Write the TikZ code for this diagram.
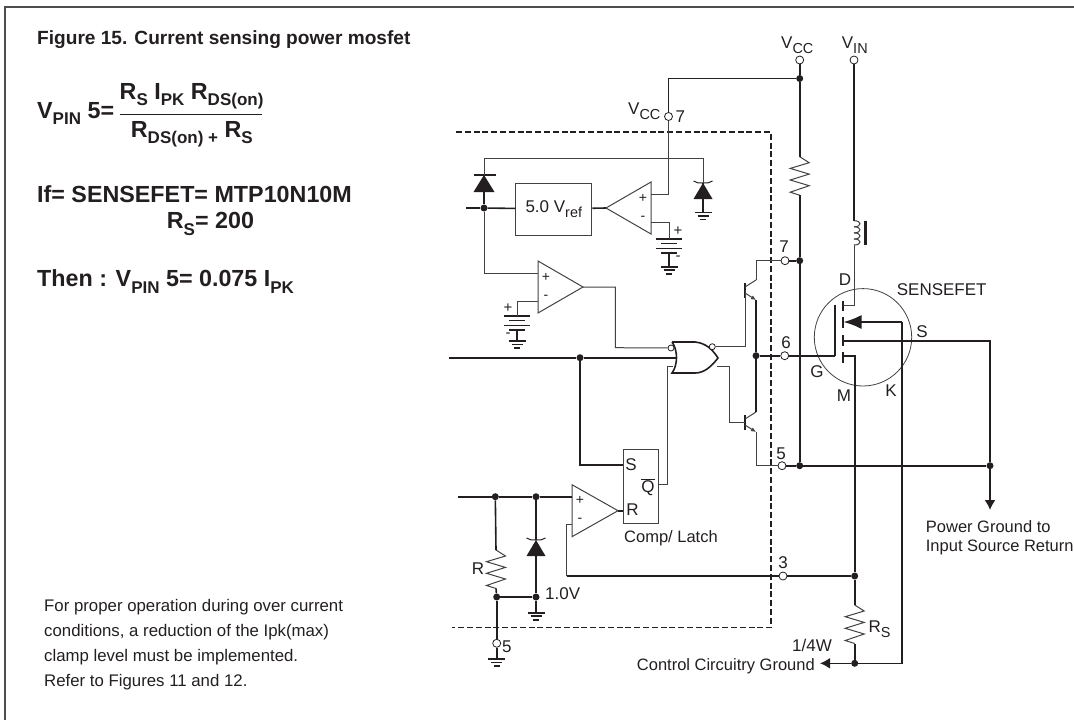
\documentclass[tikz,border=0pt]{standalone}
\usepackage{fontspec}
\setmainfont{Liberation Sans}
\usetikzlibrary{arrows.meta}
\definecolor{ink}{RGB}{35,31,32}
\newcommand{\lowtxt}[1]{\raisebox{-.3em}{\scalebox{.85}{#1}}}
\newcommand{\lowbold}[1]{\raisebox{-.28em}{\scalebox{.73}{#1}}}
\tikzset{
    wire/.style={draw=ink, line width=1.6pt},
    thinwire/.style={draw=ink!85, line width=1pt},
    pinpt/.style={circle, draw=ink, fill=white, line width=0.8pt, inner sep=0pt, minimum size=8pt},
    dotpt/.style={circle, fill=ink, inner sep=0pt, minimum size=7pt},
    lbl/.style={inner sep=0pt, text=ink, font=\fontsize{17}{20}\selectfont},
    note/.style={inner sep=0pt, anchor=base west, text=ink, font=\fontsize{16.8}{20}\selectfont},
    formula/.style={inner sep=0pt, anchor=base west, text=ink, font=\bfseries\fontsize{23.3}{26}\selectfont},
    bigtip/.style={-{Latex[length=10pt,width=11pt]}}
}
\begin{document}
\begin{tikzpicture}[x=1pt,y=-1pt]
    \useasboundingbox (0,0) rectangle (1074,720);
    \draw[draw=ink!80, line width=1.3pt] (5,720) -- (5,7) -- (1074,7);

    % texts on the left
    \node[formula, font=\bfseries\fontsize{19.1}{22}\selectfont] (title) at (37,44.5) {Figure 15. Current sensing power mosfet};
    \node[formula] (vpin) at (37,118) {V\lowbold{PIN} 5=};
    \node[formula] (fnum) at (119.5,99) {R\lowbold{S} I\lowbold{PK} R\lowbold{DS(on)}};
    \node[formula] (fden) at (130.7,137.3) {R\lowbold{DS(on) +} R\lowbold{S}};
    \coordinate (fleft) at (119.5,114.3);
    \coordinate (fright) at (262,114.3);
    \draw[draw=ink, line width=1.3pt] (fleft) -- (fright);
    \node[formula] (iftxt) at (37,202.7) {If= SENSEFET= MTP10N10M};
    \node[formula] (rstxt) at (166.7,228.7) {R\lowbold{S}= 200};
    \node[formula] (thentxt) at (37,286.7) {Then : V\lowbold{PIN} 5= 0.075 I\lowbold{PK}};
    \node[note] (note1) at (44,611) {For proper operation during over current};
    \node[note] (note2) at (44,636.5) {conditions, a reduction of the Ipk(max)};
    \node[note] (note3) at (44,661.5) {clamp level must be implemented.};
    \node[note] (note4) at (44,686) {Refer to Figures 11 and 12.};

    % dashed outline
    \coordinate (boxa) at (456,132);
    \coordinate (boxb) at (771,132);
    \coordinate (boxc) at (771,627.7);
    \coordinate (boxd) at (452,627.7);
    \draw[draw=ink, line width=1.3pt, dash pattern=on 6pt off 2.8pt] (boxa) -- (boxb) -- (boxc) -- (boxd);

    \foreach \name/\x/\y in {pvcc/799.7/60, pvin/854/60, pvc/668.5/116.5, pseven/785/260.7, psix/784.7/355.7, pfive/782/465.7, pthree/783/576, pgnd/496.7/643.3}
        \node[pinpt] (\name) at (\x,\y) {};
    \foreach \name/\x/\y in {jvcc/799.7/78.5, jref/484/208, jseven/799.7/260.7, jbase/756/355.7, jfive/799.7/465.7, jsrc/990/465.7, jin/580/357.7, jcmpa/495.3/496.7, jcmpb/536/496.7, jlow/496.7/597, jzen/536/597, jthree/854.7/576, jctl/854.7/663.3}
        \node[dotpt] (\name) at (\x,\y) {};

    % op amps
    \foreach \name/\bx/\by/\dx/\sx in {refamp/651/208/-45/-8, erramp/538/287/45/8, cmpamp/572/510.7/46/8} {
        \coordinate (\name-tip) at (\bx+\dx,\by);
        \coordinate (\name-plus) at (\bx,\by-14);
        \coordinate (\name-minus) at (\bx,\by+14);
        \draw[thinwire] (\bx,\by-26) -- (\bx+\dx,\by) -- (\bx,\by+26) -- cycle;
        \node[lbl, font=\fontsize{14}{14}\selectfont] (\name-p) at (\bx+\sx,\by-10) {+};
        \node[lbl, font=\fontsize{14}{14}\selectfont] (\name-m) at (\bx+\sx,\by+10) {-};
    }

    % grounds
    \foreach \name/\x/\y in {gzen/703/212.3, gbatr/669/266.7, gbatl/517/341, gzenl/536/612.7, gpin/496.7/659} {
        \coordinate (\name) at (\x,\y);
        \draw[wire] (\x-8.5,\y) -- (\x+8.5,\y);
        \draw[wire] (\x-5.5,\y+3.5) -- (\x+5.5,\y+3.5);
        \draw[wire] (\x-3,\y+7) -- (\x+3,\y+7);
    }

    % batteries
    \foreach \name/\x/\y/\sx in {batr/669/239/9, batl/517/316/-9} {
        \coordinate (\name-top) at (\x,\y);
        \coordinate (\name-bot) at (\x,\y+13.7);
        \draw[wire] (\x-13,\y) -- (\x+13,\y);
        \draw[wire] (\x-8,\y+4.5) -- (\x+8,\y+4.5);
        \draw[wire] (\x-13,\y+9.5) -- (\x+13,\y+9.5);
        \draw[wire] (\x-8,\y+13.7) -- (\x+8,\y+13.7);
        \node[lbl, font=\fontsize{15}{15}\selectfont] (\name-p) at (\x+\sx,\y-7.5) {+};
        \node[lbl, font=\fontsize{15}{15}\selectfont] (\name-m) at (\x+\sx,\y+19) {-};
    }

    % zeners and the diode
    \foreach \name/\x/\y in {zenr/703/183, zenl/536/540} {
        \coordinate (\name) at (\x,\y);
        \fill[ink] (\x,\y) -- (\x+9.5,\y+16) -- (\x-9.5,\y+16) -- cycle;
        \draw[wire, line width=1pt] (\x-9.5,\y-2) .. controls (\x-7,\y) and (\x-4,\y) .. (\x,\y) .. controls (\x+4,\y) and (\x+7,\y) .. (\x+9.5,\y-2);
    }
    \coordinate (diode) at (484,175);
    \fill[ink] (484,175) -- (494.5,192) -- (473.5,192) -- cycle;
    \draw[wire] (473.5,175) -- (495.5,175);

    % resistors
    \foreach \name/\x/\y in {rvcc/799.7/156.7, rsense/854.7/605, rlim/496/550} {
        \coordinate (\name-top) at (\x,\y);
        \coordinate (\name-bot) at (\x,\y+38.5);
        \draw[thinwire] (\x,\y) -- (\x+9.5,\y+6) -- (\x-9.5,\y+11.7) -- (\x+9.5,\y+17.4) -- (\x-9.5,\y+23.3) -- (\x+9.5,\y+29) -- (\x-9.5,\y+35.5) -- (\x,\y+38.5);
    }

    % boxes
    \node[lbl, draw=ink!85, line width=1pt, minimum width=76pt, minimum height=52pt] (vref) at (553.8,209) {5.0 V\lowtxt{ref}};
    \node[draw=ink!85, line width=1pt, inner sep=0pt, minimum width=35.4pt, minimum height=74pt] (latch) at (641,486.3) {};
    \node[lbl] (latchs) at (631,465) {S};
    \node[lbl] (latchq) at (648,487) {$\overline{\mbox{Q}}$};
    \node[lbl] (latchr) at (632.5,510) {R};
    \node[lbl, anchor=west, font=\fontsize{16.5}{20}\selectfont] (latchtxt) at (624,538) {Comp/ Latch};
    \coordinate (qout) at (658.7,484);

    % gate
    \coordinate (gback) at (677,357.7);
    \coordinate (gq) at (672.5,366);
    \coordinate (gout) at (717,366.5);
    \draw[wire] (672,342) -- (695,342) .. controls (706,343) and (713,350) .. (718,358) .. controls (711,367) and (704,373) .. (695,373) -- (672,373) .. controls (678,365) and (678,350) .. (672,342);
    \node[pinpt, minimum size=6pt] (ginv) at (671,348) {};
    \node[pinpt, minimum size=6pt] (goutinv) at (712.3,346.7) {};

    % transistors
    \foreach \name/\y in {qup/290, qlow/422} {
        \coordinate (\name-base) at (745,\y);
        \coordinate (\name-col) at (756,\y-10);
        \coordinate (\name-emi) at (756,\y+10);
        \draw[wire] (745,\y-7.5) -- (745,\y+7.5);
        \draw[thinwire] (745,\y-3) -- (756,\y-10);
        \draw[thinwire, -{Latex[length=5pt,width=4.5pt]}] (745,\y+3) -- (756,\y+10);
    }

    % mosfet
    \node[circle, draw=ink!85, line width=0.8pt, inner sep=0pt, minimum size=97.4pt] (mos) at (863,337.3) {};
    \foreach \y in {300.7,317,335,352}
        \draw[wire] (843,\y) -- (843,\y+10.7);
    \coordinate (mdrain) at (843,305);
    \coordinate (msense) at (843.5,322);
    \coordinate (msource) at (843,340.7);
    \coordinate (mmirror) at (843,355.7);
    \coordinate (mgatet) at (835,305);
    \coordinate (mgateb) at (835,355.7);
    \coordinate (coiltop) at (854,220.7);
    \coordinate (coilbot) at (854,245);
    \coordinate (mcorner) at (854,305);
    \coordinate (skeep) at (902,322);
    \coordinate (sfoot) at (902,663.3);
    \foreach \ya/\yb in {220.7/226.8,226.8/232.9,232.9/239,239/245}
        \draw[thinwire] (854,\ya) .. controls (862,\ya) and (862,\yb) .. (854,\yb);
    \draw[draw=ink, line width=3pt] (865,220.7) -- (865,245);

    % wires
    \draw[wire] (pvcc) -- (jvcc);
    \draw[wire] (jvcc) -- (rvcc-top);
    \draw[wire] (rvcc-bot) -- (jseven);
    \draw[wire] (jseven) -- (jfive);
    \draw[wire] (jvcc) -| (pvc);
    \draw[thinwire] (pvc) |- (refamp-plus);
    \draw[thinwire] (jref) -- ++(0,-50) -| (zenr);
    \draw[wire] (zenr) -- (gzen);
    \draw[wire] (jref) -- (diode);
    \draw[wire] (jref) -- ++(-18,0) coordinate (refin);
    \draw[wire] (jref) -- (vref);
    \draw[wire] (vref) -- (refamp-tip);
    \draw[thinwire] (refamp-minus) -| (batr-top);
    \draw[wire] (batr-bot) -- (gbatr);
    \draw[thinwire] (jref) |- (erramp-plus);
    \draw[thinwire] (erramp-minus) -| (batl-top);
    \draw[wire] (batl-bot) -- (gbatl);
    \draw[thinwire] (erramp-tip) -| (615.3,347.7) -- (ginv);
    \draw[wire] (449,357.7) -- (jin);
    \draw[wire] (jin) -- (gback);
    \draw[wire] (jin) |- (latch.west |- latchs);
    \draw[thinwire] (qout) -| (667.3,366) -- (gq);
    \draw[thinwire] (goutinv) -| (qup-base);
    \draw[thinwire] (gout) -| (729.3,422) -- (qlow-base);
    \draw[thinwire] (qup-col) |- (pseven);
    \draw[wire] (pseven) -- (jseven);
    \draw[wire] (qup-emi) -- (jbase);
    \draw[wire] (jbase) -- (qlow-col);
    \draw[wire] (jbase) -- (psix);
    \draw[wire] (psix) -- (mgateb);
    \draw[wire] (mgateb) -- (mgatet);
    \draw[thinwire] (qlow-emi) |- (pfive);
    \draw[wire] (pfive) -- (jfive);
    \draw[wire] (jfive) -- (jsrc);
    \draw[wire, bigtip] (jsrc) -- (990,510);
    \draw[wire] (msource) -| (jsrc);
    \draw[wire] (pvin) -- (coiltop);
    \draw[thinwire] (coilbot) -- (mcorner) -- (mdrain);
    \draw[wire, -{Latex[length=18pt,width=14pt]}] (skeep) -- (msense);
    \draw[wire] (skeep) -- (sfoot) -- (jctl);
    \draw[wire] (mmirror) -| (jthree);
    \draw[wire] (jthree) -- (rsense-top);
    \draw[wire] (rsense-bot) -- (jctl);
    \draw[wire, bigtip] (jctl) -- (820,663.3);
    \draw[wire] (jthree) -- (pthree);
    \draw[wire] (pthree) -- (566.7,576);
    \draw[thinwire] (566.7,576) |- (cmpamp-minus);
    \draw[wire] (458,496.7) -- (jcmpa);
    \draw[wire] (jcmpa) -- (jcmpb);
    \draw[wire] (jcmpb) -- (cmpamp-plus);
    \draw[wire] (cmpamp-tip) -- (latch.west |- cmpamp-tip);
    \draw[wire] (jcmpa) -- (rlim-top);
    \draw[wire] (rlim-bot) -- (jlow);
    \draw[wire] (jlow) -- (pgnd);
    \draw[wire] (pgnd) -- (gpin);
    \draw[wire] (jlow) -- (jzen);
    \draw[wire] (jcmpb) -- (zenl);
    \draw[wire] (jzen) -- (gzenl);
    \draw[wire] (jzen) -- (536,556);

    % labels
    \node[lbl, anchor=base west] (lvcc) at (781,48) {V\lowtxt{CC}};
    \node[lbl, anchor=base west] (lvin) at (841.7,48) {V\lowtxt{IN}};
    \node[lbl, anchor=base west] (lvccb) at (628,114) {V\lowtxt{CC}};
    \node[lbl, anchor=west] (lseven) at (675.5,117) {7};
    \node[lbl] (nseven) at (784,247) {7};
    \node[lbl] (nsix) at (786,343) {6};
    \node[lbl] (nfive) at (781,454) {5};
    \node[lbl] (nthree) at (783,563) {3};
    \node[lbl] (nd) at (845,280) {D};
    \node[lbl] (ng) at (817,372) {G};
    \node[lbl] (nm) at (844,396) {M};
    \node[lbl] (nk) at (891,391) {K};
    \node[lbl] (ns) at (922,332) {S};
    \node[lbl] (nsense) at (941.7,290) {SENSEFET};
    \node[lbl, anchor=base west, font=\fontsize{16.5}{20}\selectfont] (npow) at (925.7,532.5) {Power Ground to};
    \node[lbl, anchor=base west, font=\fontsize{16.5}{20}\selectfont] (nret) at (925.7,551) {Input Source Return};
    \node[lbl, anchor=base west] (nrs) at (868.5,632) {R\lowtxt{S}};
    \node[lbl, anchor=base] (nquart) at (812,651) {1/4W};
    \node[lbl, anchor=base east, font=\fontsize{16.5}{20}\selectfont] (nctl) at (815,670) {Control Circuitry Ground};
    \node[lbl] (nr) at (478,569) {R};
    \node[lbl, anchor=west] (nv) at (545,594) {1.0V};
    \node[lbl, anchor=west] (nfivb) at (502,646.5) {5};
\end{tikzpicture}
\end{document}
